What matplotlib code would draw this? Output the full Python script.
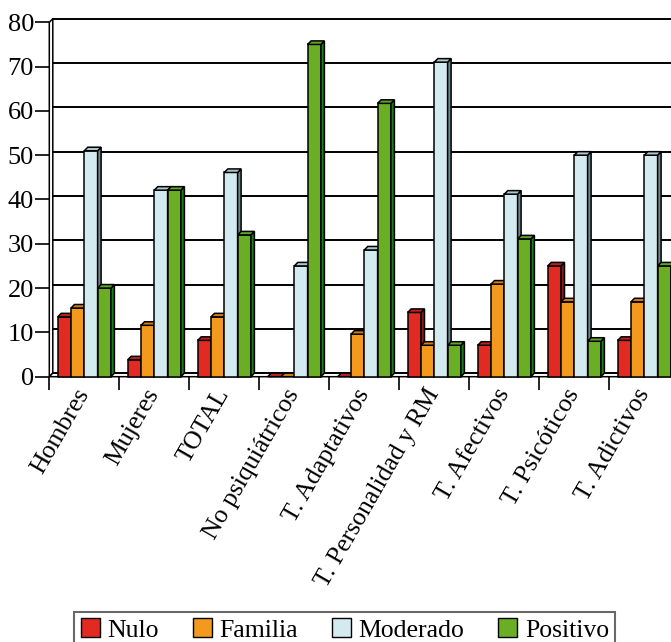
import matplotlib.pyplot as plt
from matplotlib.patches import Polygon, Patch

categories = ['Hombres', 'Mujeres', 'TOTAL', 'No psiquiátricos', 'T. Adaptativos',
              'T. Personalidad y RM', 'T. Afectivos', 'T. Psicóticos', 'T. Adictivos']
series = ['Nulo', 'Familia', 'Moderado', 'Positivo']
nulo = [13.5, 3.8, 8.2, 0, 0, 14.5, 7.1, 25, 8.2]
familia = [15.5, 11.6, 13.5, 0, 9.6, 7.1, 20.9, 16.9, 16.9]
moderado = [51, 42.1, 46.1, 25, 28.6, 71, 41.2, 50, 50]
positivo = [20, 42.1, 32, 75, 61.7, 7.1, 31.1, 8, 25]
yticks = [0, 10, 20, 30, 40, 50, 60, 70, 80]

# front / side / top colours per series
front = ['#e32a22', '#f39a1e', '#d4eaf1', '#6aaf23']
side = ['#8b1a1a', '#b06d10', '#6b8a8e', '#1f7a1f']
top = ['#c0201e', '#cf7f12', '#a9c9d1', '#58a52a']

plt.rcParams['font.family'] = ['Liberation Serif', 'DejaVu Serif']

fig = plt.figure(figsize=(6.71, 6.42), dpi=100)
ax = fig.add_axes([49.3 / 671, (642 - 376.7) / 642, 630 / 671, 354.4 / 642])
ax.set_xlim(0, 9)
ax.set_ylim(0, 80)
for s in ax.spines.values():
    s.set_visible(False)

dx, dy = 0.05, 0.8   # depth offset in data units
lw = 1.1

# left wall and floor
ax.add_patch(Polygon([(0, 0), (dx, dy), (dx, 80 + dy), (0, 80)], closed=True,
                     facecolor='white', edgecolor='black', lw=lw, clip_on=False, zorder=1))
ax.add_patch(Polygon([(0, 0), (dx, dy), (9 + dx, dy), (9, 0)], closed=True,
                     facecolor='white', edgecolor='black', lw=lw, clip_on=False, zorder=1))
# back wall grid lines
for v in yticks:
    ax.plot([dx, 9 + dx], [v + dy, v + dy], color='black', lw=1.4, clip_on=False, zorder=1)

width = 0.19
start = 0.5 - 2 * width
data = [nulo, familia, moderado, positivo]
z = 2
for i in range(len(categories)):
    for j, vals in enumerate(data):
        h = vals[i]
        x0 = i + start + j * width
        x1 = x0 + width
        if h > 0:
            ax.bar(x0, h, width=width, align='edge', color=front[j], edgecolor='black',
                   lw=lw, zorder=z, clip_on=False)
            ax.add_patch(Polygon([(x1, 0), (x1 + dx, dy), (x1 + dx, h + dy), (x1, h)], closed=True,
                                 facecolor=side[j], edgecolor='black', lw=lw, zorder=z, clip_on=False))
        ax.add_patch(Polygon([(x0, h), (x0 + dx, h + dy), (x1 + dx, h + dy), (x1, h)], closed=True,
                             facecolor=top[j], edgecolor='black', lw=lw, zorder=z, clip_on=False))
        z += 1

ax.set_yticks(yticks)
ax.set_yticklabels([str(v) for v in yticks], fontsize=19)
ax.tick_params(axis='y', length=10, width=1.2, pad=1)
ax.set_xticks(range(10))
ax.set_xticklabels([])
ax.tick_params(axis='x', length=9, width=1.2)
ax.set_xticks([i + 0.5 for i in range(9)], minor=True)
ax.set_xticklabels(categories, minor=True, rotation=60, ha='right', va='center',
                   rotation_mode='anchor', fontsize=18.5)
ax.tick_params(axis='x', which='minor', length=0, pad=10)

handles = [Patch(facecolor=front[j], edgecolor='black', lw=1) for j in range(4)]
leg = fig.legend(handles, series, loc='upper center', bbox_to_anchor=(0.514, 0.047),
                 ncol=4, fontsize=18.5, frameon=True, fancybox=False, edgecolor='#444444',
                 handlelength=0.75, handleheight=0.75, handletextpad=0.3,
                 columnspacing=1.3, borderpad=0.25, borderaxespad=0)
leg.get_frame().set_linewidth(1.5)

fig.savefig('out.png', dpi=100)
